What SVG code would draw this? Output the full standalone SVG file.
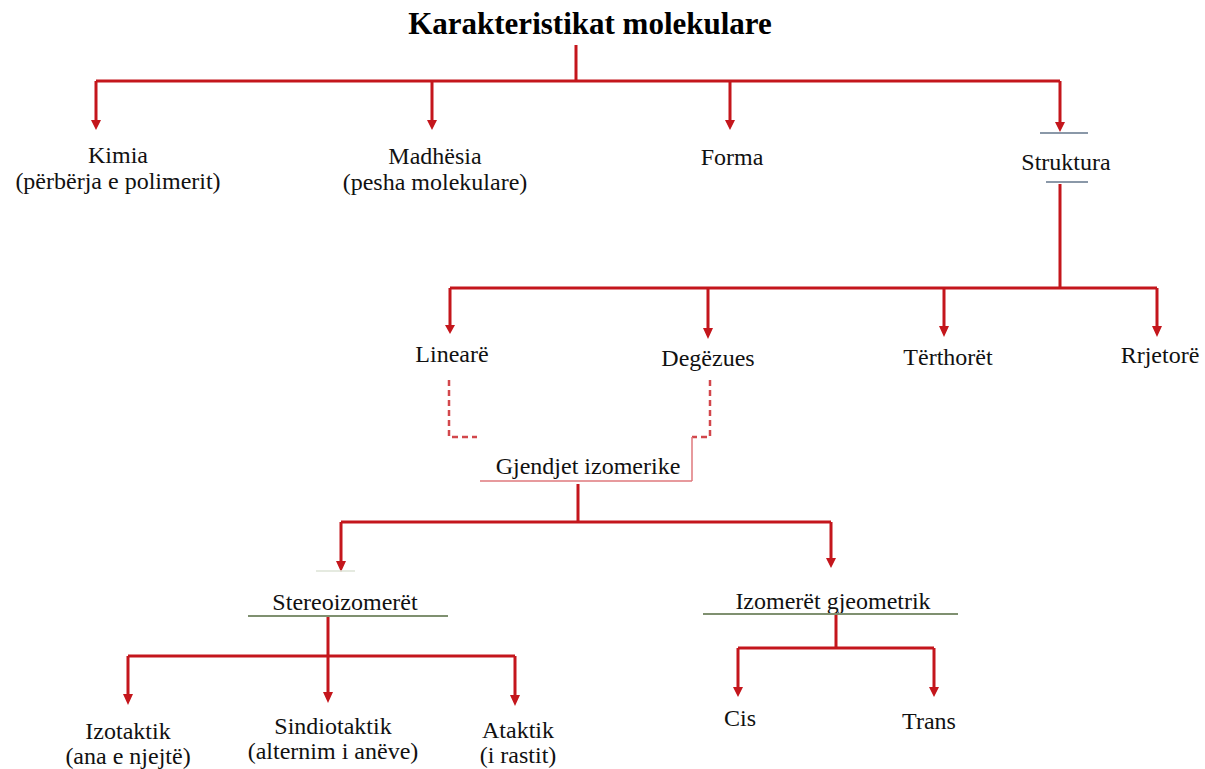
<svg xmlns="http://www.w3.org/2000/svg" width="1205" height="769" viewBox="0 0 1205 769">
<defs>
<style>
.t{font-family:"Liberation Serif","Times New Roman",serif;font-size:24px;fill:#111;text-anchor:middle}
.title{font-family:"Liberation Serif","Times New Roman",serif;font-size:31px;font-weight:bold;fill:#000;text-anchor:middle}
.c{fill:none;stroke:#c4161c;stroke-width:3}
.d{fill:none;stroke:#d2474c;stroke-width:2.5;stroke-dasharray:6 4}
.ub{stroke:#8a98a8;stroke-width:2}
.ug{stroke:#7f9070;stroke-width:2}
.ur{stroke:#e07a7e;stroke-width:1.5}
.h{fill:#c4161c}
</style>
</defs>
<rect width="1205" height="769" fill="#fff"/>
<g id="connectors">
<path class="c" d="M576,45 V81 M96,81 H1060"/>
<path class="c" d="M96,81 V120 M432,81 V120 M730,81 V120 M1060,81 V122"/>
<path class="h" d="M91,120 L101,120 L96,130 Z M427,120 L437,120 L432,130 Z M725,120 L735,120 L730,130 Z M1055,122 L1065,122 L1060,132 Z"/>
<path class="c" d="M1060,184 V288 M450,288 H1157"/>
<path class="c" d="M450,288 V325 M708,288 V328 M944,288 V326 M1157,288 V326"/>
<path class="h" d="M445,325 L455,325 L450,334 Z M703,328 L713,328 L708,339 Z M939,326 L949,326 L944,337 Z M1152,326 L1162,326 L1157,337 Z"/>
<path class="d" d="M449,380 V437 H477"/>
<path class="d" d="M710,380 V437 H692"/>
<path class="ur" d="M692,437 V481 M480,481 H692"/>
<path class="c" d="M578,484 V522 M341,522 H831"/>
<path class="c" d="M341,522 V561 M831,522 V558"/>
<path class="h" d="M336,561 L346,561 L341,572 Z M826,558 L836,558 L831,568 Z"/>
<path class="c" d="M328,617 V656 M128,656 H515"/>
<path class="c" d="M128,656 V694 M328,656 V692 M515,656 V695"/>
<path class="h" d="M123,694 L133,694 L128,705 Z M323,692 L333,692 L328,703 Z M510,695 L520,695 L515,706 Z"/>
<path class="c" d="M836,615 V648 M738,648 H934"/>
<path class="c" d="M738,648 V687 M934,648 V687"/>
<path class="h" d="M733,687 L743,687 L738,697 Z M929,687 L939,687 L934,697 Z"/>
</g>
<g id="title"><text class="title" x="590" y="34">Karakteristikat molekulare</text></g>
<g id="kimia"><text class="t" x="118" y="163">Kimia</text><text class="t" x="118" y="189">(përbërja e polimerit)</text></g>
<g id="madhesia"><text class="t" x="435" y="164">Madhësia</text><text class="t" x="435" y="190">(pesha molekulare)</text></g>
<g id="forma"><text class="t" x="732" y="165">Forma</text></g>
<g id="struktura"><line class="ub" x1="1040" y1="133" x2="1088" y2="133"/><text class="t" x="1066" y="170">Struktura</text><line class="ub" x1="1046" y1="182" x2="1088" y2="182"/></g>
<g id="lineare"><text class="t" x="452" y="362">Linearë</text></g>
<g id="degezues"><text class="t" x="708" y="366">Degëzues</text></g>
<g id="terthoret"><text class="t" x="948" y="365">Tërthorët</text></g>
<g id="rrjetore"><text class="t" x="1160" y="363">Rrjetorë</text></g>
<g id="gjendjet"><text class="t" x="588" y="474">Gjendjet izomerike</text></g>
<g id="stereo"><line stroke="#dde3d6" stroke-width="1.5" x1="316" y1="571" x2="355" y2="571"/><text class="t" x="345" y="610">Stereoizomerët</text><line class="ug" x1="248" y1="616" x2="448" y2="616"/></g>
<g id="gjeometrik"><text class="t" x="833" y="609">Izomerët gjeometrik</text><line class="ug" x1="703" y1="614" x2="958" y2="614"/></g>
<g id="izotaktik"><text class="t" x="128" y="739">Izotaktik</text><text class="t" x="128" y="764">(ana e njejtë)</text></g>
<g id="sindiotaktik"><text class="t" x="333" y="734">Sindiotaktik</text><text class="t" x="333" y="759">(alternim i anëve)</text></g>
<g id="ataktik"><text class="t" x="518" y="738">Ataktik</text><text class="t" x="518" y="763">(i rastit)</text></g>
<g id="cis"><text class="t" x="740" y="726">Cis</text></g>
<g id="trans"><text class="t" x="929" y="729">Trans</text></g>
</svg>
